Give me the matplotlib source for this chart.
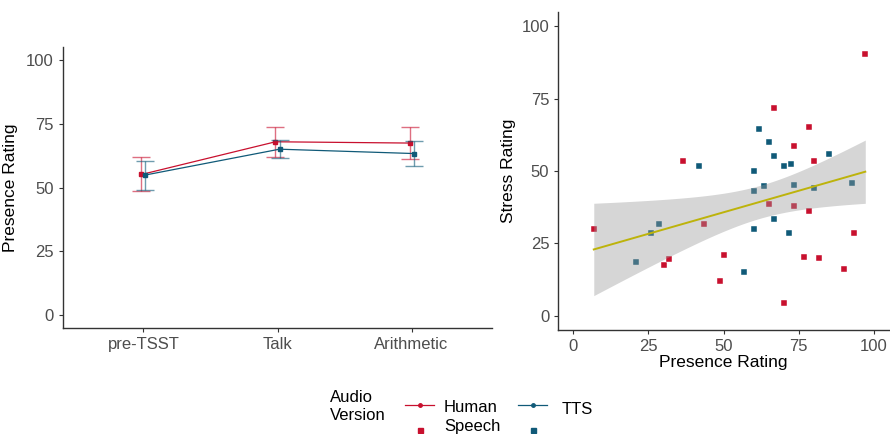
import numpy as np
import matplotlib.pyplot as plt
from matplotlib.lines import Line2D

plt.rcParams['font.family'] = ['Liberation Sans', 'DejaVu Sans']

# condition means and error bar limits (Presence Rating)
conditions = ['pre-TSST', 'Talk', 'Arithmetic']
human_mean = [55.1, 67.9, 67.4]
human_low = [48.8, 62.0, 61.1]
human_high = [61.8, 73.6, 73.5]
tts_mean = [54.9, 65.0, 63.3]
tts_low = [49.0, 61.4, 58.3]
tts_high = [60.5, 68.7, 68.4]

# per-participant presence vs stress
human_presence = [6.8, 36.6, 30.0, 31.7, 43.5, 48.7, 50.0, 66.7, 65.0, 70.1,
                  73.4, 73.4, 78.3, 78.3, 76.7, 80.0, 81.7, 90.1, 93.4, 97.1]
human_stress = [30.0, 53.5, 17.5, 19.4, 31.7, 12.1, 20.9, 71.7, 38.4, 4.5,
                58.5, 37.7, 65.1, 36.0, 20.3, 53.5, 19.8, 16.0, 28.4, 90.5]
tts_presence = [21.0, 25.7, 28.5, 41.8, 56.7, 60.1, 60.1, 60.1, 61.7, 63.3,
                65.0, 66.7, 66.7, 70.1, 72.3, 71.7, 73.4, 80.0, 85.0, 92.6]
tts_stress = [18.6, 28.6, 31.7, 51.7, 15.1, 50.0, 43.0, 30.0, 64.4, 44.6,
              60.1, 55.0, 33.3, 51.7, 52.3, 28.4, 45.0, 44.1, 55.9, 45.9]

RED = '#C8102E'
TEAL = '#105A78'
TICK_GREY = '#4D4D4D'

fig = plt.figure(figsize=(8.9, 4.34), dpi=100)


def style_axes(ax):
    for side in ['top', 'right']:
        ax.spines[side].set_visible(False)
    for side in ['left', 'bottom']:
        ax.spines[side].set_color('#333333')
        ax.spines[side].set_linewidth(1.0)
    ax.tick_params(colors='#333333', labelcolor=TICK_GREY, labelsize=12,
                   length=3, width=0.8)
    ax.set_ylim(-5, 105)
    ax.set_yticks([0, 25, 50, 75, 100])


# left: means with error bars
ax1 = fig.add_axes([0.0708, 0.2442, 0.4820, 0.6475])
style_axes(ax1)
x = np.arange(1, len(conditions) + 1)
for means, lo, hi, col, dx in [(human_mean, human_low, human_high, RED, -0.015),
                               (tts_mean, tts_low, tts_high, TEAL, 0.015)]:
    m = np.array(means)
    err = [m - np.array(lo), np.array(hi) - m]
    ax1.errorbar(x + dx, m, yerr=err, fmt='none', ecolor=col, alpha=0.6,
                 elinewidth=1.0, capsize=6.5, capthick=1.0)
    ax1.plot(x + dx, m, color=col, lw=0.9, marker='s', ms=3)
ax1.set_xlim(0.4, 3.6)
ax1.set_xticks(x)
ax1.set_xticklabels(conditions)
ax1.set_ylabel('Presence Rating', fontsize=12.5, color='black', labelpad=6)

# right: scatter with linear fit
ax2 = fig.add_axes([0.6273, 0.2396, 0.3716, 0.7334])
style_axes(ax2)
ax2.set_xlim(-5, 105)
ax2.set_xticks([0, 25, 50, 75, 100])
ax2.scatter(human_presence, human_stress, marker='s', s=16, color=RED,
            edgecolors='white', linewidths=0.3, zorder=2)
ax2.scatter(tts_presence, tts_stress, marker='s', s=16, color=TEAL,
            edgecolors='white', linewidths=0.3, zorder=2)

px = np.array(human_presence + tts_presence)
sy = np.array(human_stress + tts_stress)
n = len(px)
slope, intercept = np.polyfit(px, sy, 1)
resid = sy - (slope * px + intercept)
s = np.sqrt(np.sum(resid ** 2) / (n - 2))
xs = np.linspace(px.min(), px.max(), 80)
fit = slope * xs + intercept
se = s * np.sqrt(1 / n + (xs - px.mean()) ** 2 / np.sum((px - px.mean()) ** 2))
t_crit = 2.024  # t(0.975, df=38)
ax2.fill_between(xs, fit - t_crit * se, fit + t_crit * se, color='#999999',
                 alpha=0.4, linewidth=0, zorder=3)
ax2.plot(xs, fit, color='#BDB30B', lw=1.4, zorder=4)
ax2.set_xlabel('Presence Rating', fontsize=12.5, color='black', labelpad=1)
ax2.set_ylabel('Stress Rating', fontsize=12.5, color='black', labelpad=4)

# legend drawn in figure pixel space
def fx(p):
    return p / 890


def fy(p):
    return 1 - p / 434


fig.text(fx(330), fy(397), 'Audio', fontsize=12, va='center', ha='left')
fig.text(fx(330), fy(415), 'Version', fontsize=12, va='center', ha='left')
for col, x0, label_x, labels in [(RED, 405, 444, ['Human', 'Speech']),
                                 (TEAL, 518, 562, ['TTS'])]:
    fig.add_artist(Line2D([fx(x0), fx(x0 + 29)], [fy(404.5), fy(404.5)],
                          color=col, lw=0.9))
    fig.add_artist(Line2D([fx(x0 + 14.5)], [fy(404.5)], color=col,
                          marker='o', ms=2.5, lw=0))
    fig.add_artist(Line2D([fx(x0 + 14.5)], [fy(430)], color=col,
                          marker='s', ms=3.6, lw=0))
    if len(labels) == 2:
        fig.text(fx(label_x), fy(407.5), labels[0], fontsize=12, va='center')
        fig.text(fx(label_x), fy(426.5), labels[1], fontsize=12, va='center')
    else:
        fig.text(fx(label_x), fy(410), labels[0], fontsize=12, va='center')

fig.savefig('out.png', dpi=100)
